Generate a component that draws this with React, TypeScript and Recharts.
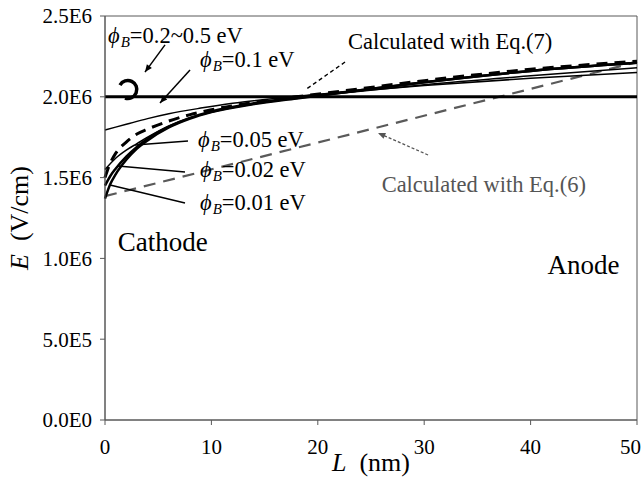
import {
  LineChart,
  Line,
  XAxis,
  YAxis,
  ReferenceLine,
  ReferenceDot,
  ReferenceArea,
} from "recharts";

// L (nm) / E (V/cm)
const xFlat = [0, 50];
const eFlat = [2.0e6, 2.0e6];

const xB01 = [0, 2, 4, 6, 9, 12, 16, 20, 30, 40, 50];
const eB01 = [1.795e6, 1.83e6, 1.865e6, 1.895e6, 1.93e6, 1.96e6, 1.99e6, 2.015e6, 2.07e6, 2.115e6, 2.15e6];

const xB005 = [0, 1, 2, 3, 4, 6, 8, 10, 14, 18, 24, 30, 40, 50];
const eB005 = [1.55e6, 1.62e6, 1.67e6, 1.71e6, 1.75e6, 1.82e6, 1.87e6, 1.905e6, 1.955e6, 1.99e6, 2.035e6, 2.075e6, 2.13e6, 2.18e6];

const xB002 = [0, 0.5, 1, 2, 3, 4, 6, 8, 10, 14, 18, 24, 30, 40, 50];
const eB002 = [1.45e6, 1.51e6, 1.555e6, 1.63e6, 1.69e6, 1.74e6, 1.815e6, 1.87e6, 1.91e6, 1.96e6, 1.995e6, 2.04e6, 2.09e6, 2.16e6, 2.21e6];

const xB001 = [0, 0.5, 1, 2, 3, 4, 6, 8, 10, 14, 18, 24, 30, 40, 50];
const eB001 = [1.37e6, 1.46e6, 1.52e6, 1.61e6, 1.68e6, 1.73e6, 1.81e6, 1.865e6, 1.905e6, 1.955e6, 1.99e6, 2.04e6, 2.09e6, 2.16e6, 2.21e6];

const xEq7 = [0, 0.5, 1, 2, 3, 4, 6, 8, 10, 14, 18, 24, 30, 40, 50];
const eEq7 = [1.5e6, 1.59e6, 1.65e6, 1.72e6, 1.77e6, 1.8e6, 1.85e6, 1.89e6, 1.92e6, 1.965e6, 2.0e6, 2.05e6, 2.1e6, 2.17e6, 2.22e6];

const xEq6 = [0, 50];
const eEq6 = [1.385e6, 2.215e6];

const xTicks = [0, 10, 20, 30, 40, 50];
const yTicks = [0, 5e5, 1e6, 1.5e6, 2e6, 2.5e6];
const yTickLabels = ["0.0E0", "5.0E5", "1.0E6", "1.5E6", "2.0E6", "2.5E6"];

const toRows = (xs: number[], es: number[]) => xs.map((L, i) => ({ L, E: es[i] }));

const FONT = "'Liberation Serif', 'Times New Roman', serif";

const PhiLabel = ({ cx, cy, value }: any) => (
  <text x={cx} y={cy} fontFamily={FONT} fontSize={22.5} fill="#000">
    <tspan fontStyle="italic">ϕ</tspan>
    <tspan fontStyle="italic" fontSize={15} dy={4} dx={1}>B</tspan>
    <tspan dy={-4}>={value} eV</tspan>
  </text>
);

const Arrow = ({ x1, y1, x2, y2, color = "#000", dash, head = true, width = 1.5 }: any) => {
  const a = Math.atan2(y2 - y1, x2 - x1);
  const s = 8;
  const p1 = `${x2 - s * Math.cos(a - 0.4)},${y2 - s * Math.sin(a - 0.4)}`;
  const p2 = `${x2 - s * Math.cos(a + 0.4)},${y2 - s * Math.sin(a + 0.4)}`;
  return (
    <g>
      <line x1={x1} y1={y1} x2={x2} y2={y2} stroke={color} strokeWidth={width} strokeDasharray={dash} />
      {head && <polygon points={`${x2},${y2} ${p1} ${p2}`} fill={color} />}
    </g>
  );
};

const TextAt = ({ cx, cy, text, size, color = "#000" }: any) => (
  <text x={cx} y={cy} fontFamily={FONT} fontSize={size} fill={color}>{text}</text>
);

export default function App() {
  return (
    <div style={{ position: "absolute", left: 0, top: 0, width: 641, height: 478, background: "#fff" }}>
      <LineChart width={641} height={478} margin={{ top: 16, right: 4, bottom: 0, left: 0 }}>
        <ReferenceArea x1={0} x2={50} y1={0} y2={2.5e6} fill="none" stroke="#595959" strokeWidth={1} />
        <XAxis
          type="number"
          dataKey="L"
          domain={[0, 50]}
          ticks={xTicks}
          height={58}
          stroke="#595959"
          tickSize={5}
          tickMargin={14}
          tick={{ fill: "#000", fontFamily: FONT, fontSize: 21 }}
          allowDuplicatedCategory={false}
          label={{
            content: ({ viewBox }: any) => (
              <text x={viewBox.x + viewBox.width / 2} y={viewBox.y + 51} textAnchor="middle" fontFamily={FONT} fontSize={26} fill="#000">
                <tspan fontStyle="italic">L</tspan>
                <tspan>{"\u00a0 (nm)"}</tspan>
              </text>
            ),
          }}
        />
        <YAxis
          type="number"
          domain={[0, 2.5e6]}
          ticks={yTicks}
          width={105}
          stroke="#595959"
          tickSize={5}
          tickMargin={8}
          tickFormatter={(v: number) => yTickLabels[yTicks.indexOf(v)]}
          tick={{ fill: "#000", fontFamily: FONT, fontSize: 21 }}
          label={{
            content: ({ viewBox }: any) => {
              const cx = 19;
              const cy = viewBox.y + viewBox.height / 2;
              return (
                <text x={cx} y={cy} transform={`rotate(-90 ${cx} ${cy})`} textAnchor="middle" dominantBaseline="central" fontFamily={FONT} fontSize={26} fill="#000">
                  <tspan fontStyle="italic">E</tspan>
                  <tspan>{"\u00a0 (V/cm)"}</tspan>
                </text>
              );
            },
          }}
        />

        <Line data={toRows(xEq6, eEq6)} dataKey="E" type="linear" stroke="#5a5a5a" strokeWidth={2.2} strokeDasharray="12 8" dot={false} isAnimationActive={false} />
        <Line data={toRows(xFlat, eFlat)} dataKey="E" type="linear" stroke="#000" strokeWidth={3} dot={false} isAnimationActive={false} />
        <Line data={toRows(xB01, eB01)} dataKey="E" type="monotone" stroke="#000" strokeWidth={1.5} dot={false} isAnimationActive={false} />
        <Line data={toRows(xB005, eB005)} dataKey="E" type="monotone" stroke="#000" strokeWidth={1.5} dot={false} isAnimationActive={false} />
        <Line data={toRows(xB002, eB002)} dataKey="E" type="monotone" stroke="#000" strokeWidth={2.5} dot={false} isAnimationActive={false} />
        <Line data={toRows(xB001, eB001)} dataKey="E" type="monotone" stroke="#000" strokeWidth={2.5} dot={false} isAnimationActive={false} />
        <Line data={toRows(xEq7, eEq7)} dataKey="E" type="monotone" stroke="#000" strokeWidth={3} strokeDasharray="11 7" dot={false} isAnimationActive={false} />

        {/* pointers */}
        <ReferenceLine segment={[{ x: 5.64, y: 2.321e6 }, { x: 3.76, y: 2.153e6 }]} shape={(p: any) => <Arrow {...p} />} />
        <ReferenceLine segment={[{ x: 7.99, y: 2.166e6 }, { x: 5.17, y: 1.962e6 }]} shape={(p: any) => <Arrow {...p} />} />
        <ReferenceLine segment={[{ x: 7.8, y: 1.726e6 }, { x: 2.82, y: 1.702e6 }]} shape={(p: any) => <Arrow {...p} head={false} />} />
        <ReferenceLine segment={[{ x: 7.52, y: 1.535e6 }, { x: 1.22, y: 1.572e6 }]} shape={(p: any) => <Arrow {...p} head={false} />} />
        <ReferenceLine segment={[{ x: 7.52, y: 1.343e6 }, { x: 0.47, y: 1.454e6 }]} shape={(p: any) => <Arrow {...p} head={false} />} />
        <ReferenceLine segment={[{ x: 22.56, y: 2.215e6 }, { x: 18.8, y: 2.042e6 }]} shape={(p: any) => <Arrow {...p} head={false} dash="4 3" width={1.3} />} />
        <ReferenceLine segment={[{ x: 30.36, y: 1.64e6 }, { x: 25.66, y: 1.776e6 }]} shape={(p: any) => <Arrow {...p} color="#555" dash="3 2" width={1.3} />} />

        {/* hook marking the flat curves */}
        <ReferenceDot
          x={2.16}
          y={2.042e6}
          r={0}
          shape={(p: any) => (
            <path d={`M ${p.cx - 8} ${p.cy - 5} A 9 9 0 1 1 ${p.cx - 3} ${p.cy + 8}`} fill="none" stroke="#000" strokeWidth={3.5} />
          )}
        />

        {/* text annotations */}
        <ReferenceDot x={0.28} y={2.333e6} r={0} shape={(p: any) => <PhiLabel {...p} value="0.2~0.5" />} />
        <ReferenceDot x={8.93} y={2.185e6} r={0} shape={(p: any) => <PhiLabel {...p} value="0.1" />} />
        <ReferenceDot x={8.74} y={1.689e6} r={0} shape={(p: any) => <PhiLabel {...p} value="0.05" />} />
        <ReferenceDot x={8.93} y={1.504e6} r={0} shape={(p: any) => <PhiLabel {...p} value="0.02" />} />
        <ReferenceDot x={8.93} y={1.3e6} r={0} shape={(p: any) => <PhiLabel {...p} value="0.01" />} />
        <ReferenceDot x={22.84} y={2.296e6} r={0} shape={(p: any) => <TextAt {...p} text="Calculated with Eq.(7)" size={22.5} />} />
        <ReferenceDot x={26.0} y={1.411e6} r={0} shape={(p: any) => <TextAt {...p} text="Calculated with Eq.(6)" size={22.5} color="#555" />} />
        <ReferenceDot x={1.2} y={1.046e6} r={0} shape={(p: any) => <TextAt {...p} text="Cathode" size={27} />} />
        <ReferenceDot x={41.6} y={0.903e6} r={0} shape={(p: any) => <TextAt {...p} text="Anode" size={27} />} />
      </LineChart>
    </div>
  );
}
